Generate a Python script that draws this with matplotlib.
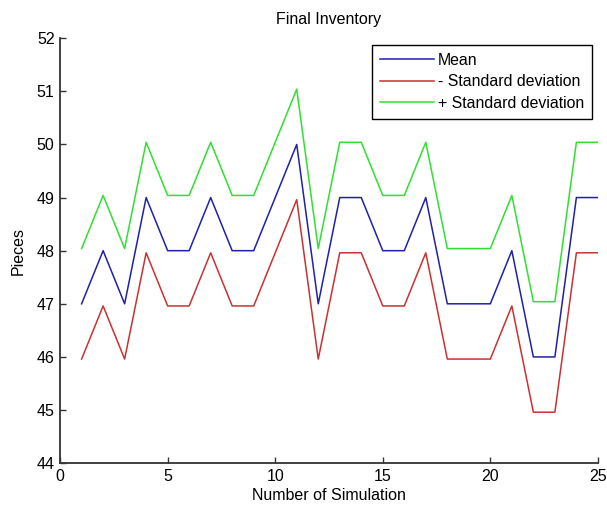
import matplotlib
matplotlib.use("Agg")
import matplotlib.pyplot as plt

plt.rcParams['font.family'] = ['Liberation Sans', 'DejaVu Sans']

# simulation number and inventory results
sims = list(range(1, 26))
mean = [47, 48, 47, 49, 48, 48, 49, 48, 48, 49, 50, 47, 49, 49, 48, 48, 49, 47, 47, 47, 48, 46, 46, 49, 49]
minus_std = [45.96, 46.96, 45.96, 47.96, 46.96, 46.96, 47.96, 46.96, 46.96, 47.96, 48.96, 45.96, 47.96,
             47.96, 46.96, 46.96, 47.96, 45.96, 45.96, 45.96, 46.96, 44.96, 44.96, 47.96, 47.96]
plus_std = [48.04, 49.04, 48.04, 50.04, 49.04, 49.04, 50.04, 49.04, 49.04, 50.04, 51.04, 48.04, 50.04,
            50.04, 49.04, 49.04, 50.04, 48.04, 48.04, 48.04, 49.04, 47.04, 47.04, 50.04, 50.04]

fig = plt.figure(figsize=(6.07, 5.09), dpi=100)
ax = fig.add_axes([0.099, 0.09, 0.886, 0.835])

ax.plot(sims, mean, color='#2020a8', lw=1.1, label='Mean')
ax.plot(sims, minus_std, color='#c83232', lw=1.1, label='- Standard deviation')
ax.plot(sims, plus_std, color='#30e030', lw=1.1, label='+ Standard deviation')

ax.set_xlim(0, 25)
ax.set_ylim(44, 52)
ax.set_xticks([0, 5, 10, 15, 20, 25])
ax.set_yticks(range(44, 53))
ax.tick_params(direction='in', labelsize=11.5, length=4, width=1, color='#333333', pad=4)
for s in ['top', 'right']:
    ax.spines[s].set_visible(False)
for s in ['left', 'bottom']:
    ax.spines[s].set_color('#333333')
    ax.spines[s].set_linewidth(1.3)

ax.set_title('Final Inventory', fontsize=11.5, pad=10)
ax.set_xlabel('Number of Simulation', fontsize=11.5, labelpad=3)
ax.set_ylabel('Pieces', fontsize=11.5, labelpad=8)

leg = ax.legend(loc='upper right', bbox_to_anchor=(0.9985, 0.996), fontsize=11.4, handlelength=3.4,
                handletextpad=0.25, labelspacing=0.42, borderpad=0.5, borderaxespad=0.3,
                fancybox=False, framealpha=1)
leg.get_frame().set_edgecolor('black')
leg.get_frame().set_linewidth(1)

fig.savefig('out.png', dpi=100)
